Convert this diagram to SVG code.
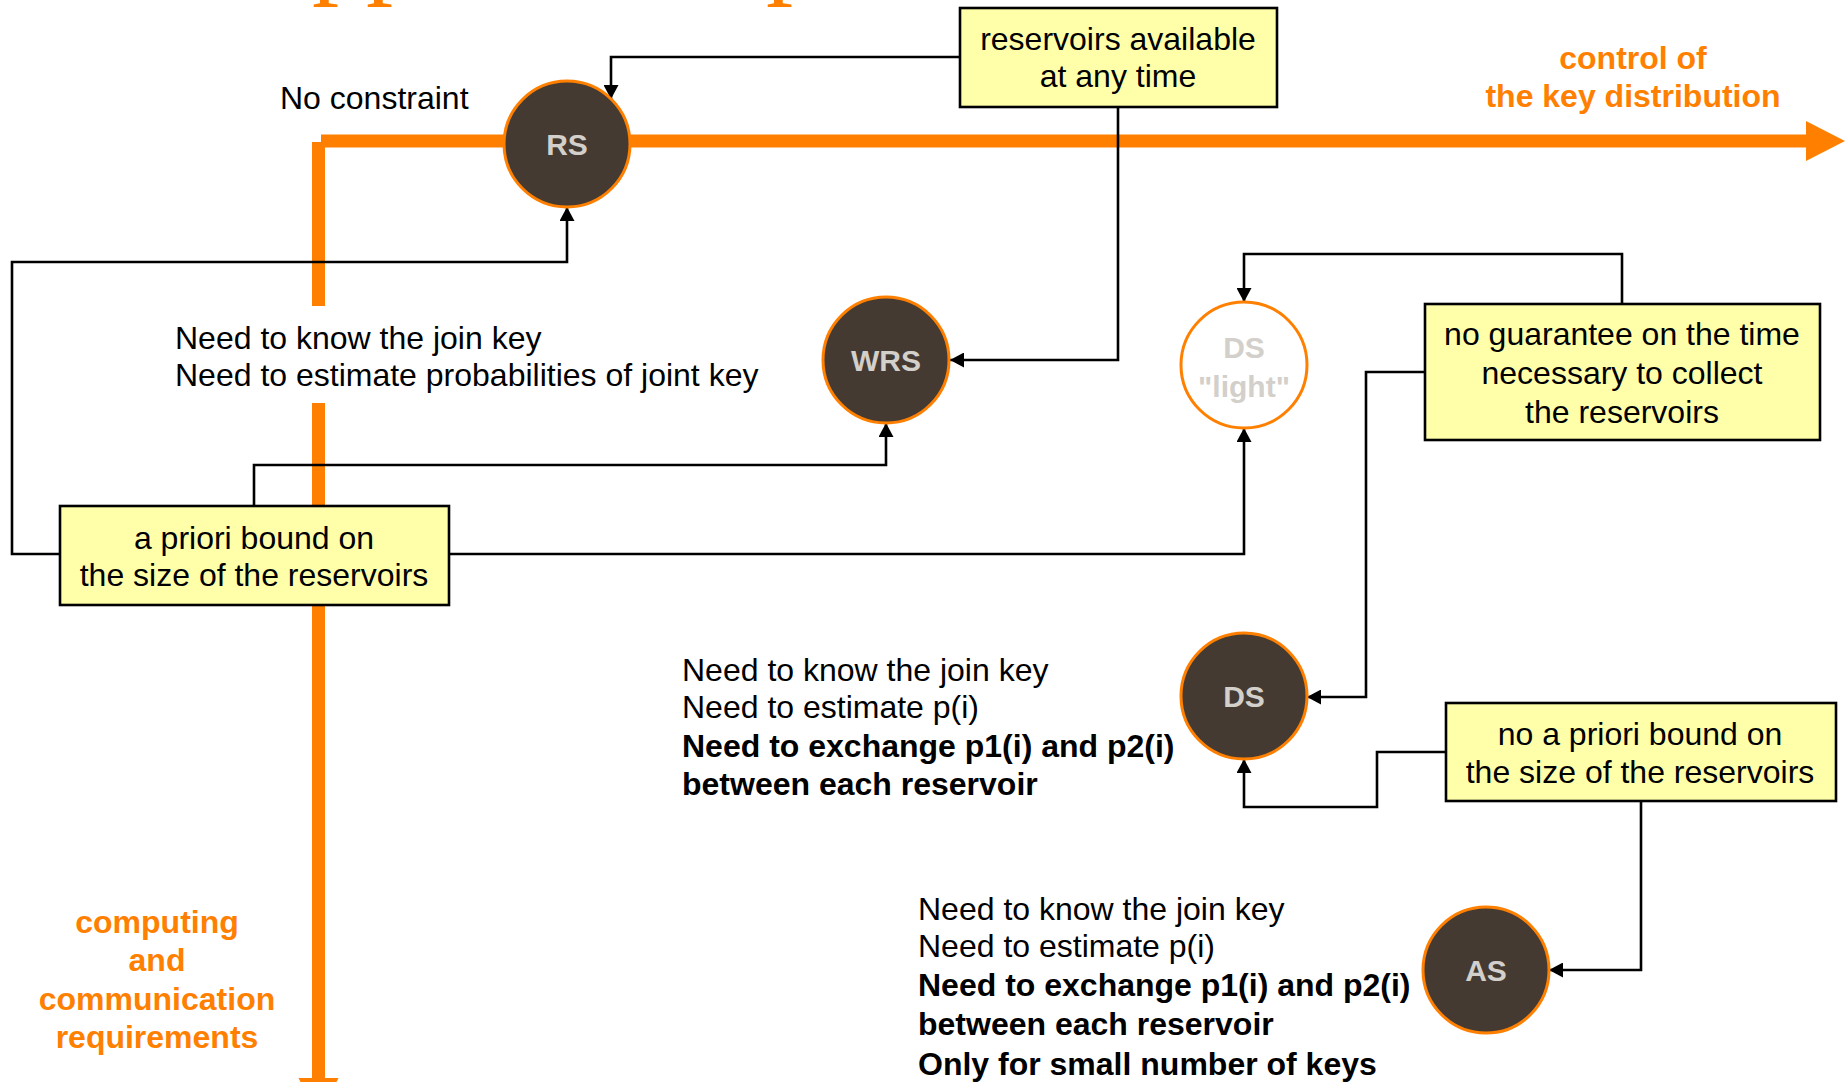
<svg xmlns="http://www.w3.org/2000/svg" width="1845" height="1082" viewBox="0 0 1845 1082">
  <defs>
    <marker id="arrow" viewBox="0 0 14 15" markerWidth="14" markerHeight="15" refX="14" refY="7.5" orient="auto" markerUnits="userSpaceOnUse">
      <path d="M0,0 L14,7.5 L0,15 z" fill="#000"/>
    </marker>
    <style>
      .txt { font-family: "Liberation Sans", Arial, sans-serif; font-size: 32px; fill: #000; }
      .bold { font-weight: bold; }
      .mid { text-anchor: middle; }
      .axis-label { font-family: "Liberation Sans", Arial, sans-serif; font-size: 32px; font-weight: bold; fill: #ff8000; text-anchor: middle; }
      .title { font-family: "Liberation Serif", "Times New Roman", serif; font-size: 108px; fill: #ff8000; }
      .axis { fill: #ff8000; }
      .box { fill: #ffffaa; stroke: #000; stroke-width: 2.6; }
      .conn { fill: none; stroke: #000; stroke-width: 2.6; marker-end: url(#arrow); }
      .node { fill: #443a32; stroke: #ff8000; stroke-width: 3; }
      .node-light { fill: #fff; stroke: #ff8000; stroke-width: 3; }
      .node-label { font-family: "Liberation Sans", Arial, sans-serif; font-size: 30px; font-weight: bold; fill: #d3cfca; text-anchor: middle; }
    </style>
  </defs>

  <!-- title, clipped by the top edge -->
  <text class="title" x="312" y="-16">pp</text>
  <text class="title" x="766" y="-16">p</text>

  <!-- axes -->
  <g id="axes">
    <rect class="axis" x="321" y="134.5" width="1490" height="13"/>
    <path class="axis" d="M1806,121 L1845,141 L1806,161 z"/>
    <rect class="axis" x="312" y="142" width="13" height="164"/>
    <rect class="axis" x="312" y="403" width="13" height="680"/>
    <path class="axis" d="M298.5,1078 L338.5,1078 L318.5,1118 z"/>
  </g>

  <g id="axis-labels">
    <text class="axis-label" x="1633" y="69">control of</text>
    <text class="axis-label" x="1633" y="107">the key distribution</text>
    <text class="axis-label" x="157" y="933">computing</text>
    <text class="axis-label" x="157" y="971">and</text>
    <text class="axis-label" x="157" y="1010">communication</text>
    <text class="axis-label" x="157" y="1048">requirements</text>
  </g>

  <!-- connectors -->
  <g id="connectors">
    <path class="conn" d="M960,57 H611 V99"/>
    <path class="conn" d="M1118,107 V360 H950"/>
    <path class="conn" d="M60,554 H12 V262 H567 V207"/>
    <path class="conn" d="M254,506 V465 H886 V423"/>
    <path class="conn" d="M449,554 H1244 V428"/>
    <path class="conn" d="M1622,304 V254 H1244 V302"/>
    <path class="conn" d="M1425,372 H1366 V697 H1307"/>
    <path class="conn" d="M1447,752 H1377 V807 H1244 V759"/>
    <path class="conn" d="M1641,801 V970 H1549"/>
  </g>

  <!-- free-standing notes -->
  <g id="notes">
    <text class="txt" x="280" y="109">No constraint</text>
    <text class="txt" x="175" y="349">Need to know the join key</text>
    <text class="txt" x="175" y="386">Need to estimate probabilities of joint key</text>

    <text class="txt" x="682" y="681">Need to know the join key</text>
    <text class="txt" x="682" y="718">Need to estimate p(i)</text>
    <text class="txt bold" x="682" y="757">Need to exchange p1(i) and p2(i)</text>
    <text class="txt bold" x="682" y="795">between each reservoir</text>

    <text class="txt" x="918" y="920">Need to know the join key</text>
    <text class="txt" x="918" y="957">Need to estimate p(i)</text>
    <text class="txt bold" x="918" y="996">Need to exchange p1(i) and p2(i)</text>
    <text class="txt bold" x="918" y="1035">between each reservoir</text>
    <text class="txt bold" x="918" y="1075">Only for small number of keys</text>
  </g>

  <!-- condition boxes -->
  <g id="box-available">
    <rect class="box" x="960" y="8" width="317" height="99"/>
    <text class="txt mid" x="1118" y="50">reservoirs available</text>
    <text class="txt mid" x="1118" y="87">at any time</text>
  </g>
  <g id="box-bound">
    <rect class="box" x="60" y="506" width="389" height="99"/>
    <text class="txt mid" x="254" y="549">a priori bound on</text>
    <text class="txt mid" x="254" y="586">the size of the reservoirs</text>
  </g>
  <g id="box-no-guarantee">
    <rect class="box" x="1425" y="304" width="395" height="136"/>
    <text class="txt mid" x="1622" y="345">no guarantee on the time</text>
    <text class="txt mid" x="1622" y="384">necessary to collect</text>
    <text class="txt mid" x="1622" y="423">the reservoirs</text>
  </g>
  <g id="box-no-bound">
    <rect class="box" x="1446" y="703" width="390" height="98"/>
    <text class="txt mid" x="1640" y="745">no a priori bound on</text>
    <text class="txt mid" x="1640" y="783">the size of the reservoirs</text>
  </g>

  <!-- sampling methods -->
  <g id="node-rs">
    <circle class="node" cx="567" cy="144" r="63"/>
    <text class="node-label" x="567" y="155">RS</text>
  </g>
  <g id="node-wrs">
    <circle class="node" cx="886" cy="360" r="63"/>
    <text class="node-label" x="886" y="371">WRS</text>
  </g>
  <g id="node-ds-light">
    <circle class="node-light" cx="1244" cy="365" r="63"/>
    <text class="node-label" x="1244" y="358">DS</text>
    <text class="node-label" x="1244" y="397">"light"</text>
  </g>
  <g id="node-ds">
    <circle class="node" cx="1244" cy="696" r="63"/>
    <text class="node-label" x="1244" y="707">DS</text>
  </g>
  <g id="node-as">
    <circle class="node" cx="1486" cy="970" r="63"/>
    <text class="node-label" x="1486" y="981">AS</text>
  </g>
</svg>
